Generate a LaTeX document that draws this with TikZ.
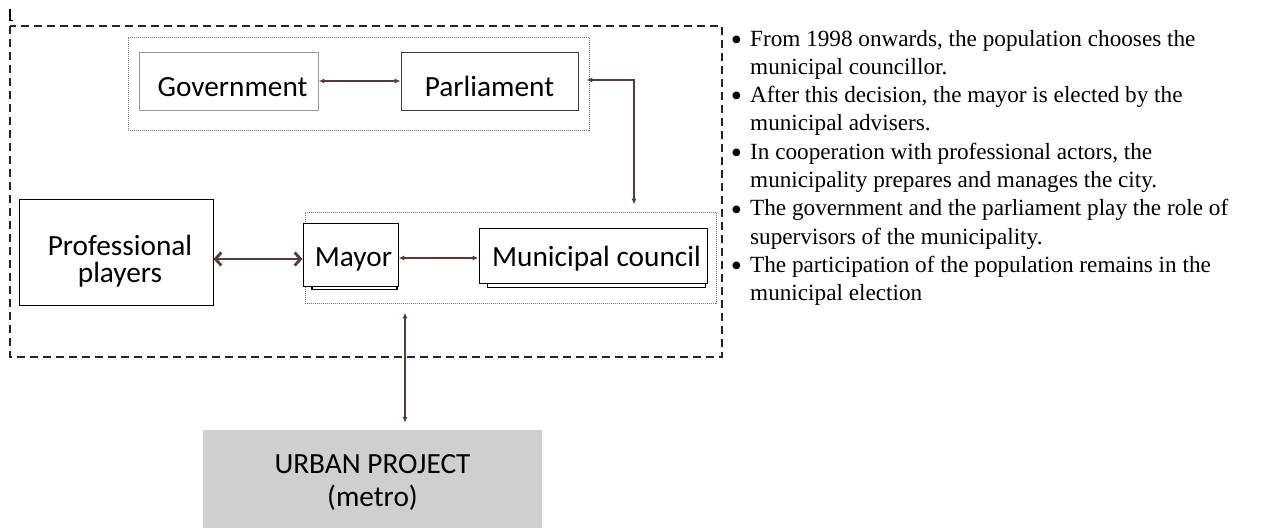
\documentclass[tikz,border=0pt]{standalone}
\usepackage{fontspec}
\newfontfamily\calibfont{Carlito}
\newfontfamily\serifnotes{Liberation Serif}
\usetikzlibrary{arrows.meta}
\definecolor{linkbrown}{RGB}{90,58,52}
\definecolor{projgray}{RGB}{208,206,206}

\begin{document}
\begin{tikzpicture}[x=1pt,y=-1pt,
  frame/.style={draw, line width=0.9pt, fill=white, inner sep=0pt},
  group/.style={draw=black!55, line width=0.8pt, dash pattern=on 1pt off 1pt, inner sep=0pt},
  boxtext/.style={font=\calibfont\fontsize{29.3}{27}\selectfont, inner sep=0pt},
  link/.style={draw=linkbrown, line width=1.2pt, {Latex[length=6pt,width=5pt]}-{Latex[length=6pt,width=5pt]}},
  heavylink/.style={draw=linkbrown, line width=2.8pt, {Straight Barb[length=6pt,width=13pt]}-{Straight Barb[length=6pt,width=13pt]}},
  note/.style={font=\serifnotes\fontsize{23.2}{28}\selectfont, inner sep=0pt, anchor=base west},
  dot/.style={font=\serifnotes\fontsize{32}{28}\selectfont, inner sep=0pt, anchor=center},
]
\useasboundingbox (0,0) rectangle (1264,528);

% outer boundary of the municipal system
\draw[black!85, line width=1.2pt, dash pattern=on 8pt off 5pt] (10,26) rectangle (722,357);
\draw[line width=2pt] (9.5,9) -- (9.5,20.5);
\draw[line width=1pt] (9.5,20.5) -- (12.5,20.5);

% national level
\node[group, minimum width=461pt, minimum height=93pt] (natl) at (358.5,83.5) {};
\node[frame, draw=black!40, minimum width=179pt, minimum height=58pt] (gov) at (228.5,81) {};
\node[boxtext, anchor=base] (govtext) at (232.5,96) {Government};
\node[frame, draw=black!75, minimum width=177pt, minimum height=58pt] (parl) at (489.5,81) {};
\node[boxtext, anchor=base] (parltext) at (489.5,96.5) {Parliament};

% municipal level
\node[group, minimum width=411pt, minimum height=91pt] (muni) at (510.5,257.5) {};
\draw[line width=1.2pt, fill=white] (312,230) rectangle (397,289.5);
\node[frame, minimum width=95pt, minimum height=63pt] (mayor) at (350.5,254.5) {};
\node[boxtext, anchor=base] (mayortext) at (353.5,266.5) {Mayor};
\draw[line width=0.9pt, fill=white] (487,235) rectangle (705,287.5);
\node[frame, minimum width=228pt, minimum height=55pt] (council) at (593,255.5) {};
\node[boxtext, anchor=base] (counciltext) at (596.5,266.5) {Municipal council};

% professional actors
\node[frame, minimum width=194pt, minimum height=106pt] (prof) at (116,252) {};
\node[boxtext, align=center] (proftext) at (120,261) {Professional\\players};

% project
\node[fill=projgray, inner sep=0pt, minimum width=339pt, minimum height=98pt] (urban) at (372.5,479) {};
\node[boxtext, font=\calibfont\fontsize{29.3}{33}\selectfont, align=center] (urbantext) at (372.5,482.5) {URBAN PROJECT\\(metro)};

% links
\coordinate (bend) at (634,80);
\coordinate (rowa) at (0,259);
\coordinate (rowb) at (0,258);
\coordinate (vert) at (405,0);
\draw[link] (gov.east) -- (parl.west);
\draw[link, shorten >=7pt, shorten <=-3pt] (natl.east |- bend) -- (bend) -- (bend |- muni.north);
\draw[heavylink] (prof.east |- rowa) -- (mayor.west |- rowa);
\draw[link] (mayor.east |- rowb) -- (council.west |- rowb);
\draw[link, shorten <=9pt, shorten >=7pt] (muni.south -| vert) -- (urban.north -| vert);

% notes
\node[dot] (b1) at (736.5,43) {•};
\node[note] (n1a) at (750,46) {From 1998 onwards, the population chooses the};
\node[note] (n1b) at (750,74.3) {municipal councillor.};
\node[dot] (b2) at (736.5,99.6) {•};
\node[note] (n2a) at (750,102.6) {After this decision, the mayor is elected by the};
\node[note] (n2b) at (750,130.9) {municipal advisers.};
\node[dot] (b3) at (736.5,156.2) {•};
\node[note] (n3a) at (750,159.2) {In cooperation with professional actors, the};
\node[note] (n3b) at (750,187.5) {municipality prepares and manages the city.};
\node[dot] (b4) at (736.5,212.8) {•};
\node[note] (n4a) at (750,215.8) {The government and the parliament play the role of};
\node[note] (n4b) at (750,244.1) {supervisors of the municipality.};
\node[dot] (b5) at (736.5,269.4) {•};
\node[note] (n5a) at (750,272.4) {The participation of the population remains in the};
\node[note] (n5b) at (750,300.7) {municipal election};
\end{tikzpicture}
\end{document}
